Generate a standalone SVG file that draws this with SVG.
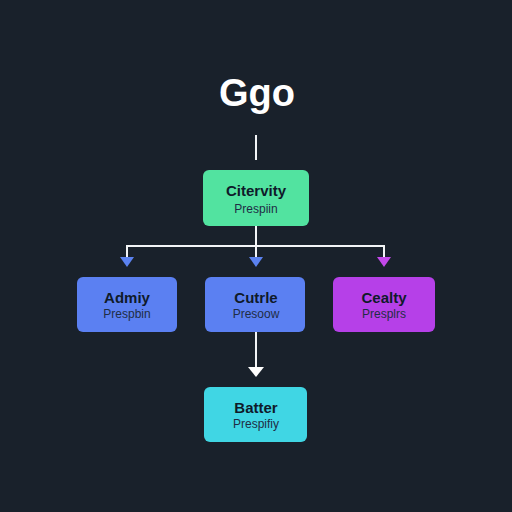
<svg xmlns="http://www.w3.org/2000/svg" width="512" height="512" viewBox="0 0 512 512">
<style>
.t{font-family:"Liberation Sans",Arial,sans-serif;text-anchor:middle;fill:#0f1a2a}
.h{font-size:15px;font-weight:bold}
.s{font-size:12px;fill:#1f2d45}
.ln{stroke:#f2f4f6;stroke-width:2;fill:none}
</style>
<rect width="512" height="512" fill="#19212b"/>
<text x="257" y="106" font-family="Liberation Sans,Arial,sans-serif" font-size="38" font-weight="bold" fill="#ffffff" text-anchor="middle">Ggo</text>
<g id="connectors">
<line class="ln" x1="256" y1="135" x2="256" y2="160"/>
<line class="ln" x1="256" y1="226" x2="256" y2="246"/>
<polyline class="ln" points="127,259 127,246 384,246 384,259"/>
<line class="ln" x1="256" y1="246" x2="256" y2="259"/>
<path d="M120,257L134,257L127,267z" fill="#5b82f0"/>
<path d="M249,257L263,257L256,267z" fill="#5b82f0"/>
<path d="M377,257L391,257L384,267z" fill="#c348ea"/>
<line class="ln" x1="256" y1="332" x2="256" y2="368"/>
<path d="M248,367L264,367L256,377z" fill="#ffffff"/>
</g>
<g id="n-top">
<rect x="203" y="170" width="106" height="56" rx="6" fill="#52e3a0"/>
<text class="t h" x="256" y="196">Citervity</text>
<text class="t s" x="256" y="213">Prespiin</text>
</g>
<g id="n-left">
<rect x="77" y="277" width="100" height="55" rx="6" fill="#5b80f2"/>
<text class="t h" x="127" y="303">Admiy</text>
<text class="t s" x="127" y="318">Prespbin</text>
</g>
<g id="n-mid">
<rect x="205" y="277" width="100" height="55" rx="6" fill="#5b80f2"/>
<text class="t h" x="256" y="303">Cutrle</text>
<text class="t s" x="256" y="318">Presoow</text>
</g>
<g id="n-right">
<rect x="333" y="277" width="102" height="55" rx="6" fill="#b640e8"/>
<text class="t h" x="384" y="303">Cealty</text>
<text class="t s" x="384" y="318">Presplrs</text>
</g>
<g id="n-bottom">
<rect x="204" y="387" width="103" height="55" rx="6" fill="#40d6e4"/>
<text class="t h" x="256" y="413">Batter</text>
<text class="t s" x="256" y="428">Prespifiy</text>
</g>
</svg>
